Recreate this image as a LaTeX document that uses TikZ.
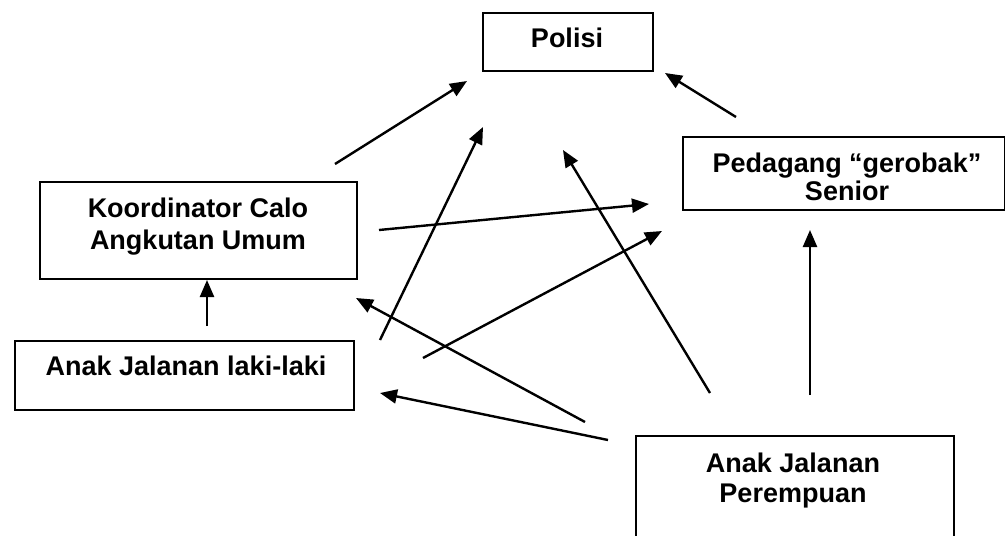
\documentclass[tikz,border=0pt]{standalone}
\usepackage{fontspec}
\setmainfont{Liberation Sans}
\usetikzlibrary{arrows.meta}
\tikzset{
  box/.style={draw=black, line width=2.2pt, inner sep=0pt, anchor=north west},
  lbl/.style={font=\bfseries\fontsize{27}{32}\selectfont, inner sep=0pt, anchor=base},
  arr/.style={line width=2.4pt, -{Triangle[length=17pt,width=14pt]}}
}
\begin{document}
\begin{tikzpicture}[x=1pt,y=-1pt]
\useasboundingbox (0,0) rectangle (1005,536);
\clip (0,0) rectangle (1005,536);
\fill[white] (0,0) rectangle (1005,536);
% boxes
\node[box, minimum width=170pt, minimum height=58pt] (polisiBox) at (482,12) {};
\node[box, minimum width=322pt, minimum height=73pt] (pedagangBox) at (682,136) {};
\node[box, minimum width=317pt, minimum height=97pt] (koordBox) at (39,181) {};
\node[box, minimum width=339pt, minimum height=69pt] (lakiBox) at (14,340) {};
\node[box, minimum width=318pt, minimum height=140pt] (perempuanBox) at (635,435) {};
% texts
\node[lbl] (polisi) at (567,47) {Polisi};
\node[lbl] (pedagang1) at (847,172) {Pedagang “gerobak”};
\node[lbl] (pedagang2) at (847,200) {Senior};
\node[lbl] (koord1) at (198,217) {Koordinator Calo};
\node[lbl] (koord2) at (198,249) {Angkutan Umum};
\node[lbl] (laki) at (186,375) {Anak Jalanan laki-laki};
\node[lbl] (perempuan1) at (793,472) {Anak Jalanan};
\node[lbl] (perempuan2) at (793,502) {Perempuan};
% arrow end points
\coordinate (a1s) at (335,164); \coordinate (a1e) at (467,81);
\coordinate (a2s) at (736,117); \coordinate (a2e) at (665,73);
\coordinate (a3s) at (379,230); \coordinate (a3e) at (649,204);
\coordinate (a4s) at (380,340); \coordinate (a4e) at (483,127);
\coordinate (a5s) at (423,358); \coordinate (a5e) at (662,231);
\coordinate (a6s) at (585,422); \coordinate (a6e) at (356,298);
\coordinate (a7s) at (608,440); \coordinate (a7e) at (380,393);
\coordinate (a8s) at (710,393); \coordinate (a8e) at (563,150);
\coordinate (a9s) at (810,395); \coordinate (a9e) at (810,230);
\coordinate (a10s) at (207,326); \coordinate (a10e) at (207,280);
% arrows
\draw[arr] (a1s) -- (a1e);
\draw[arr] (a2s) -- (a2e);
\draw[arr] (a3s) -- (a3e);
\draw[arr] (a4s) -- (a4e);
\draw[arr] (a5s) -- (a5e);
\draw[arr] (a6s) -- (a6e);
\draw[arr] (a7s) -- (a7e);
\draw[arr] (a8s) -- (a8e);
\draw[arr] (a9s) -- (a9e);
\draw[arr] (a10s) -- (a10e);
\end{tikzpicture}
\end{document}
